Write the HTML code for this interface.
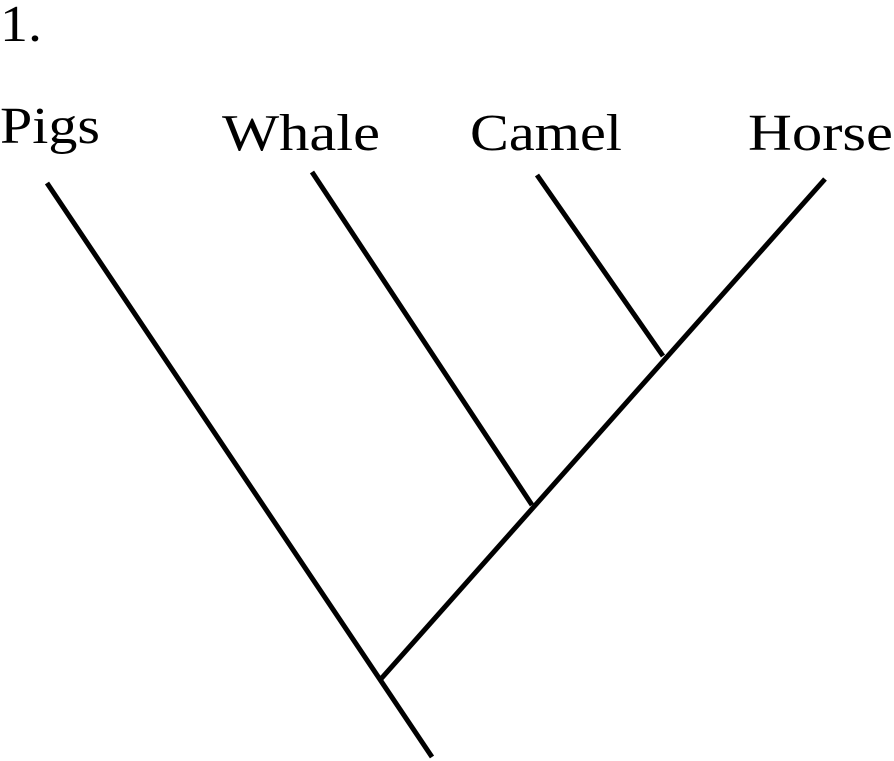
<!DOCTYPE html>
<html><head><style>
html,body{margin:0;padding:0;background:#fff;width:894px;height:761px;overflow:hidden}
svg{display:block}
text{font-family:"Liberation Serif","DejaVu Serif",serif;font-size:52px;fill:#000}
</style></head><body>
<svg width="894" height="761" viewBox="0 0 894 761">
<text x="0" y="41" textLength="42" lengthAdjust="spacingAndGlyphs">1.</text>
<text x="0" y="143" textLength="100" lengthAdjust="spacingAndGlyphs">Pigs</text>
<text x="222" y="150" textLength="158" lengthAdjust="spacingAndGlyphs">Whale</text>
<text x="470" y="150" textLength="152" lengthAdjust="spacingAndGlyphs">Camel</text>
<text x="748" y="150" textLength="145" lengthAdjust="spacingAndGlyphs">Horse</text>
<g stroke="#000" stroke-width="5" stroke-linecap="butt" fill="none">
<line x1="47" y1="183" x2="432" y2="757"/>
<line x1="825" y1="179" x2="380" y2="680"/>
<line x1="312" y1="172" x2="532" y2="505"/>
<line x1="537" y1="175" x2="663" y2="356"/>
</g>
</svg>
</body></html>
